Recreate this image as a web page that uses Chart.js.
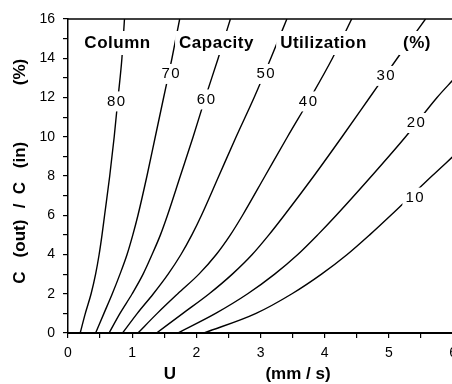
<!DOCTYPE html>
<html>
<head>
<meta charset="utf-8">
<script src="https://cdn.jsdelivr.net/npm/chart.js@4.4.1/dist/chart.umd.min.js"></script>
<style>
  html, body { margin: 0; padding: 0; background: #fff; overflow: hidden; }
  canvas { display: block; }
</style>
</head>
<body>
<canvas id="chart" width="464" height="384"></canvas>
<script>
// Column capacity utilization curves
// ======================

// U (mm/s) against C(out)/C(in) (%), one pair per curve
var u80 = [0.19, 0.27, 0.36, 0.43, 0.485, 0.53, 0.57, 0.65, 0.72, 0.78, 0.84, 0.88];
var c80 = [0, 1, 2, 3, 4, 5, 6, 8, 10, 12, 14, 16];

var u70 = [0.43, 0.56, 0.69, 0.81, 0.92, 1.01, 1.09, 1.23, 1.36, 1.49, 1.62, 1.74];
var c70 = [0, 1, 2, 3, 4, 5, 6, 8, 10, 12, 14, 16];

var u60 = [0.64, 0.81, 1.00, 1.17, 1.31, 1.44, 1.55, 1.75, 1.95, 2.14, 2.34, 2.53];
var c60 = [0, 1, 2, 3, 4, 5, 6, 8, 10, 12, 14, 16];

var u50 = [0.85, 1.08, 1.33, 1.56, 1.76, 1.93, 2.08, 2.35, 2.62, 2.90, 3.16, 3.41];
var c50 = [0, 1, 2, 3, 4, 5, 6, 8, 10, 12, 14, 16];

var u40 = [1.09, 1.39, 1.71, 2.04, 2.31, 2.53, 2.72, 3.07, 3.42, 3.78, 4.12, 4.42];
var c40 = [0, 1, 2, 3, 4, 5, 6, 8, 10, 12, 14, 16];

var u30 = [1.38, 1.79, 2.20, 2.56, 2.87, 3.13, 3.37, 3.83, 4.27, 4.70, 5.13, 5.57];
var c30 = [0, 1, 2, 3, 4, 5, 6, 8, 10, 12, 14, 16];

var u20 = [1.71, 2.30, 2.80, 3.22, 3.58, 3.89, 4.18, 4.73, 5.26, 5.75, 6.0];
var c20 = [0, 1, 2, 3, 4, 5, 6, 8, 10, 12, 12.9];

var u10 = [2.12, 2.93, 3.49, 3.95, 4.35, 4.70, 5.03, 5.35, 5.67, 6.0];
var c10 = [0, 1, 2, 3, 4, 5, 6, 7, 8, 9];

// inline curve labels (utilization %), placed in data coordinates
var labelText = ['80', '70', '60', '50', '40', '30', '20', '10'];
var labelU    = [0.76, 1.61, 2.16, 3.09, 3.75, 4.96, 5.43, 5.41];
var labelC    = [11.8, 13.2, 11.9, 13.2, 11.8, 13.1, 10.7, 6.9];

var curves = [[u80, c80], [u70, c70], [u60, c60], [u50, c50],
              [u40, c40], [u30, c30], [u20, c20], [u10, c10]];

var FONT = '"Liberation Sans", Arial, Helvetica, sans-serif';

function points(us, cs) {
    return us.map(function (u, i) { return { x: u, y: cs[i] }; });
}

// text that hides the curves behind it
function boxedText(ctx, text, x, y, padX, padY) {
    var w = ctx.measureText(text).width;
    ctx.fillStyle = '#fff';
    ctx.fillRect(x - w / 2 - padX, y - padY, w + padX * 2, padY * 2);
    ctx.fillStyle = '#000';
    ctx.fillText(text, x, y);
}

var annotate = {
    id: 'annotate'
    , afterDatasetsDraw: function (chart) {
        var ctx = chart.ctx
            , area = chart.chartArea
            , xs = chart.scales.x
            , ys = chart.scales.y;

        ctx.save();

        // top frame line
        ctx.strokeStyle = '#000';
        ctx.lineWidth = 1.5;
        ctx.beginPath();
        ctx.moveTo(area.left, area.top);
        ctx.lineTo(area.right + 4, area.top);
        ctx.stroke();

        ctx.textAlign = 'center';
        ctx.textBaseline = 'middle';

        // curve labels
        ctx.font = '15px ' + FONT;
        ctx.letterSpacing = '1.5px';
        labelText.forEach(function (t, i) {
            boxedText(ctx, t, xs.getPixelForValue(labelU[i]), ys.getPixelForValue(labelC[i]), 3, 10);
        });

        // title band inside the plot
        ctx.font = 'bold 17px ' + FONT;
        ctx.letterSpacing = '0.5px';
        boxedText(ctx, 'Column', 117.5, 43, 4, 12);
        boxedText(ctx, 'Capacity', 216.5, 43, 4, 12);
        boxedText(ctx, 'Utilization', 323.5, 43, 4, 12);
        boxedText(ctx, '(%)', 417, 43, 4, 12);

        ctx.restore();
    }
    , afterDraw: function (chart) {
        var ctx = chart.ctx;
        ctx.save();
        ctx.fillStyle = '#000';
        ctx.font = 'bold 17px ' + FONT;
        ctx.textAlign = 'center';
        ctx.textBaseline = 'middle';

        // x axis title
        ctx.fillText('U', 170, 374);
        ctx.fillText('(mm / s)', 298, 374);

        // y axis title, rotated
        ctx.translate(20, 0);
        ctx.rotate(-Math.PI / 2);
        [['C', 277.5], ['(out)', 238.5], ['/', 206], ['C', 188], ['(in)', 155], ['(%)', 72]]
            .forEach(function (p) { ctx.fillText(p[0], -p[1], 0); });

        ctx.restore();
    }
};

new Chart(document.getElementById('chart'), {
    type: 'line'
    , data: {
        datasets: curves.map(function (c, i) {
            return {
                label: labelText[i]
                , data: points(c[0], c[1])
                , borderColor: '#000'
                , borderWidth: 1.4
                , pointRadius: 0
                , cubicInterpolationMode: 'monotone'
                , fill: false
            };
        })
    }
    , options: {
        responsive: false
        , animation: false
        , events: []
        , layout: { padding: { top: 19, right: 4, left: 0, bottom: 0 } }
        , plugins: { legend: { display: false }, tooltip: { enabled: false } }
        , scales: {
            x: {
                type: 'linear'
                , min: 0
                , max: 6
                , ticks: {
                    stepSize: 0.5
                    , autoSkip: false
                    , maxRotation: 0
                    , padding: 7
                    , color: '#000'
                    , font: { family: FONT, size: 14 }
                    , callback: function (v) { return Number.isInteger(v) ? v : ''; }
                }
                , grid: { drawOnChartArea: false, tickLength: 5, color: '#000', lineWidth: 1.2 }
                , border: { color: '#000', width: 2 }
                , afterFit: function (scale) { scale.height = 51; }
            }
            , y: {
                min: 0
                , max: 16
                , ticks: {
                    stepSize: 1
                    , autoSkip: false
                    , padding: 8
                    , color: '#000'
                    , font: { family: FONT, size: 14 }
                    , callback: function (v) { return v % 2 === 0 ? v : ''; }
                }
                , grid: { drawOnChartArea: false, tickLength: 5, color: '#000', lineWidth: 1.2 }
                , border: { color: '#000', width: 1.5 }
                , afterFit: function (scale) { scale.width = 68; }
            }
        }
    }
    , plugins: [annotate]
});
</script>
</body>
</html>
